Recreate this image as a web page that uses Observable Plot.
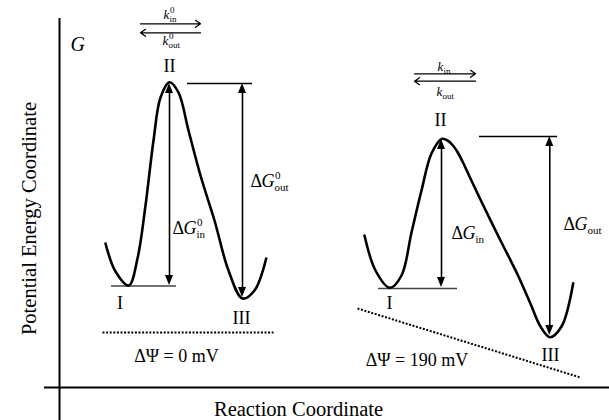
<!DOCTYPE html>
<html>
<head>
<meta charset="utf-8">
<script src="https://cdn.jsdelivr.net/npm/d3@7"></script>
<script src="https://cdn.jsdelivr.net/npm/@observablehq/plot@0.6"></script>
<style>
  html, body { margin: 0; padding: 0; background: #fff; }
  #chart svg { display: block; }
</style>
</head>
<body>
<div id="chart"></div>
<script>
// Free-energy profiles of a transport cycle (states I -> II -> III) along the
// reaction coordinate, without and with a membrane potential.
// Units are arbitrary: rc runs along the reaction coordinate, G is free energy.

// Profile at zero membrane potential
const restRC = [46, 56, 69.3, 78, 86, 94, 101, 110, 119, 129, 141, 155, 169, 183, 195, 206.7];
const restG  = [144, 116, 102, 129, 182, 247, 290, 305.3, 295, 257, 212, 167, 117, 89, 97, 129];

// Profile tilted by the membrane potential
const drivenRC = [305, 316, 330.3, 342, 352, 362, 372, 382.7, 388, 393, 398, 403, 410, 424.3, 441, 457.7, 471, 481, 490.3, 502, 513.7];
const drivenG  = [152, 117, 99.7, 112, 155, 197, 234, 248.7, 247, 242.5, 235.5, 226, 211, 181, 147, 113.7, 83.7, 61, 50.3, 61, 104.3];

// State labels
const stateNames   = ["I", "II", "III", "I", "II", "III"];
const stateLabelRC = [60.5, 110, 182, 330, 381, 491];
const stateLabelG  = [79, 316, 64, 79, 262, 27];

// Reference levels: ground state I and barrier top II
const levelKind = ["well", "barrier", "well", "barrier"];
const levelFrom = [52, 128, 319, 420];
const levelTo   = [117, 193, 398, 498];
const levelG    = [101.5, 304, 99, 251];

// Activation energies (double-headed arrows)
const dgRC     = [110, 183, 382, 490.3];
const dgTop    = [304, 304, 248, 251];
const dgBottom = [102, 90, 100, 52];
const dgSup    = ["0", "0", "", ""];
const dgSub    = ["in", "out", "in", "out"];
const dgLabelRC = [113, 191, 392, 504];
const dgLabelG  = [154, 201, 149, 158];

// Rate constants above each profile
const kFromRC = [81, 355];
const kToRC   = [141, 416];
const kFwdG   = [363.7, 313.7];
const kBackG  = [354.7, 306.3];
const kSup    = ["0", ""];
const kInRC   = [104, 378];
const kInG    = [368.5, 317];
const kOutRC  = [103, 377];
const kOutG   = [342.5, 292];

// Membrane potential (dotted lines) and their labels
const psiText  = ["ΔΨ = 0 mV", "ΔΨ = 190 mV"];
const psiRC1   = [43, 298];
const psiRC2   = [214, 521];
const psiG1    = [55, 79];
const psiG2    = [55, 10];
const psiLabelRC = [117, 357.5];
const psiLabelG  = [26, 22];

// ---- tables built from the arrays above ----
const rest = restRC.map((rc, i) => ({rc, g: restG[i]}));
const driven = drivenRC.map((rc, i) => ({rc, g: drivenG[i]}));
const states = stateNames.map((name, i) => ({name, rc: stateLabelRC[i], g: stateLabelG[i]}));
const levels = levelKind.map((kind, i) => ({kind, from: levelFrom[i], to: levelTo[i], g: levelG[i]}));
const barriers = dgRC.map((rc, i) => ({rc, top: dgTop[i], bottom: dgBottom[i]}));
const dgLabels = dgLabelRC.map((rc, i) => ({rc, g: dgLabelG[i], sup: dgSup[i], sub: dgSub[i]}));
const kFwd = kFromRC.map((rc, i) => ({x1: rc, x2: kToRC[i], g: kFwdG[i]}));
const kBack = kFromRC.map((rc, i) => ({x1: kToRC[i], x2: rc, g: kBackG[i]}));
const kIn = kInRC.map((rc, i) => ({rc, g: kInG[i], sup: kSup[i], sub: "in"}));
const kOut = kOutRC.map((rc, i) => ({rc, g: kOutG[i], sup: kSup[i], sub: "out"}));
const psi = psiText.map((text, i) => ({text, x1: psiRC1[i], x2: psiRC2[i], y1: psiG1[i], y2: psiG2[i], rc: psiLabelRC[i], g: psiLabelG[i]}));

// filled arrowheads for the double-headed ΔG arrows
const HEAD = 10, HALF = 4;
const heads = [];
barriers.forEach((b, i) => {
  heads.push({id: `t${i}`, g: b.top, x1: b.rc, x2: b.rc});
  heads.push({id: `t${i}`, g: b.top - HEAD, x1: b.rc - HALF, x2: b.rc + HALF});
  heads.push({id: `b${i}`, g: b.bottom, x1: b.rc, x2: b.rc});
  heads.push({id: `b${i}`, g: b.bottom + HEAD, x1: b.rc - HALF, x2: b.rc + HALF});
});

const serif = "'Liberation Serif', 'Times New Roman', serif";
const txt = {fontFamily: serif, fill: "black", lineAnchor: "bottom"};

const chart = Plot.plot({
  width: 609,
  height: 420,
  margin: 0,
  x: {domain: [-59, 550], range: [0, 609], axis: null},
  y: {domain: [-33, 387], range: [420, 0], axis: null},
  style: {background: "white", fontFamily: serif},
  marks: [
    // axes
    Plot.ruleX([0], {y1: -33, y2: 369, strokeWidth: 2}),
    Plot.ruleY([0], {x1: -15, x2: 550, strokeWidth: 2}),
    Plot.text(["Potential Energy Coordinate"], {...txt, x: () => -30, y: () => 169, rotate: -90, lineAnchor: "middle", fontSize: 20.5}),
    Plot.text(["Reaction Coordinate"], {...txt, x: () => 239, y: () => -28, fontSize: 20.5}),
    Plot.text(["G"], {...txt, x: () => 11, y: () => 337, textAnchor: "start", fontStyle: "italic", fontSize: 20}),

    // membrane potential
    Plot.link(psi, {x1: "x1", y1: "y1", x2: "x2", y2: "y2", strokeWidth: 2, strokeDasharray: "2,1.6"}),
    Plot.text(psi, {...txt, x: "rc", y: "g", text: "text", fontSize: 18}),

    // reference levels
    Plot.ruleY(levels.filter(d => d.kind === "well"), {y: "g", x1: "from", x2: "to", stroke: "#444", strokeWidth: 1.6}),
    Plot.ruleY(levels.filter(d => d.kind === "barrier"), {y: "g", x1: "from", x2: "to", stroke: "black", strokeWidth: 1.3}),

    // energy profiles
    Plot.line(rest, {x: "rc", y: "g", curve: "catmull-rom", strokeWidth: 2.6}),
    Plot.line(driven, {x: "rc", y: "g", curve: "catmull-rom", strokeWidth: 2.6}),

    // ΔG arrows
    Plot.link(barriers, {x1: "rc", x2: "rc", y1: d => d.bottom + HEAD - 1, y2: d => d.top - HEAD + 1, strokeWidth: 1.6}),
    Plot.areaX(heads, {y: "g", x1: "x1", x2: "x2", z: "id", fill: "black"}),

    // ΔG labels
    Plot.text(dgLabels, {...txt, x: "rc", y: "g", text: () => "Δ", textAnchor: "start", fontSize: 18}),
    Plot.text(dgLabels, {...txt, x: "rc", y: "g", text: () => "G", dx: 11, textAnchor: "start", fontStyle: "italic", fontSize: 18}),
    Plot.text(dgLabels, {...txt, x: "rc", y: "g", text: "sup", dx: 24.5, dy: -8, textAnchor: "start", fontSize: 11}),
    Plot.text(dgLabels, {...txt, x: "rc", y: "g", text: "sub", dx: 24, dy: 4, textAnchor: "start", fontSize: 11}),

    // state labels
    Plot.text(states, {...txt, x: "rc", y: "g", text: "name", fontSize: 18}),

    // rate constants
    Plot.arrow(kFwd, {x1: "x1", x2: "x2", y1: "g", y2: "g", headLength: 7, headAngle: 70, strokeWidth: 1.3}),
    Plot.arrow(kBack, {x1: "x1", x2: "x2", y1: "g", y2: "g", headLength: 7, headAngle: 70, strokeWidth: 1.3}),
    ...[kIn, kOut].flatMap(lab => [
      Plot.text(lab, {...txt, x: "rc", y: "g", text: () => "k", textAnchor: "start", fontStyle: "italic", fontSize: 13}),
      Plot.text(lab, {...txt, x: "rc", y: "g", text: "sup", dx: 6.5, dy: -6, textAnchor: "start", fontSize: 9}),
      Plot.text(lab, {...txt, x: "rc", y: "g", text: "sub", dx: 6, dy: 3, textAnchor: "start", fontSize: 9})
    ])
  ]
});

document.getElementById("chart").append(chart);
</script>
</body>
</html>
